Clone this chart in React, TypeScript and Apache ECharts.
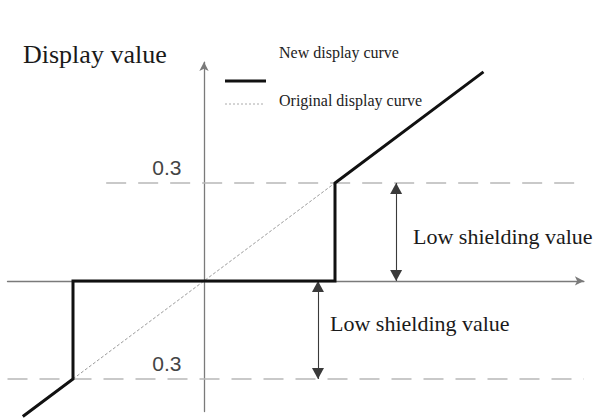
import React, { useEffect, useRef } from 'react';
import * as echarts from 'echarts';

// ---- data ----
const newCurve: [number, number][] = [
  [-0.415, -0.415],
  [-0.3, -0.3],
  [-0.3, 0],
  [0.3, 0],
  [0.3, 0.3],
  [0.64, 0.64],
];
const originalCurve: [number, number][] = [
  [-0.3, -0.3],
  [0.3, 0.3],
];
const thresholdLevels = [0.3, -0.3];
const guideStartX = [-0.224, -0.45];
const guideEndX = 0.87;
const shieldArrowX = [0.44, 0.261];
const shieldArrowSpans: [number, number][] = [
  [0.3, 0],
  [0, -0.3],
];
const levelLabelX = -0.085;
const levelLabelLift = 0.048;
const seriesNames = ['New display curve', 'Original display curve'];
const yTitle = 'Display value';
const annotationText = 'Low shielding value';

const SERIF = "'Liberation Serif', 'Times New Roman', serif";
const SANS = "'Liberation Sans', Arial, sans-serif";

export default function App() {
  const ref = useRef<HTMLDivElement>(null);
  useEffect(() => {
    if (!ref.current) return;
    const chart = echarts.init(ref.current, undefined, { renderer: 'svg' });

    const guideLines = thresholdLevels.map((lv, i) => [
      {
        coord: [guideStartX[i], lv],
        symbol: 'none',
        lineStyle: { color: '#b8b8b8', width: 1.5, type: [20, 12] },
      },
      { coord: [guideEndX, lv], symbol: 'none' },
    ]);
    const arrowEnd = (x: number, y: number) => ({
      coord: [x, y],
      symbol: 'triangle',
      symbolSize: [12, 11],
      symbolOffset: [0, 5.5],
    });
    const arrows = shieldArrowX.map((x, i) => [
      { ...arrowEnd(x, shieldArrowSpans[i][0]), lineStyle: { color: '#3a3a3a', width: 1.1, type: 'solid' } },
      arrowEnd(x, shieldArrowSpans[i][1]),
    ]);

    const axisCommon = {
      type: 'value' as const,
      axisTick: { show: false },
      axisLabel: { show: false },
      splitLine: { show: false },
      axisLine: {
        onZero: true,
        lineStyle: { color: '#7a7a7a', width: 1.3 },
        symbol: ['none', 'arrow'],
        symbolSize: [7, 9],
      },
    };

    chart.setOption({
      animation: false,
      backgroundColor: '#ffffff',
      grid: {
        left: 7.5,
        top: 62.1,
        width: 576.4,
        height: 349.5,
        containLabel: false,
        outerBoundsMode: 'none',
      },
      xAxis: { ...axisCommon, min: -0.45, max: 0.87 },
      yAxis: { ...axisCommon, min: -0.4, max: 0.67 },
      series: [
        {
          name: seriesNames[0],
          type: 'line',
          data: newCurve,
          symbol: 'none',
          clip: false,
          z: 5,
          lineStyle: { color: '#111', width: 3, join: 'miter' },
        },
        {
          name: seriesNames[1],
          type: 'line',
          data: originalCurve,
          symbol: 'none',
          z: 4,
          lineStyle: { color: '#9a9a9a', width: 1, type: [3, 2] },
          markLine: {
            silent: true,
            symbol: ['none', 'none'],
            label: { show: false },
            animation: false,
            z: 3,
            data: [...guideLines, ...arrows],
          },
          markPoint: {
            silent: true,
            symbol: 'circle',
            symbolSize: 1,
            itemStyle: { color: 'rgba(0,0,0,0)' },
            label: {
              show: true,
              position: 'inside',
              formatter: (p: any) => Math.abs(p.value).toFixed(1),
              fontSize: 21,
              fontFamily: SANS,
              color: '#444',
            },
            data: thresholdLevels.map((lv) => ({
              coord: [levelLabelX, lv + levelLabelLift],
              value: lv,
            })),
          },
        },
      ],
      graphic: [
        {
          type: 'text',
          left: 23,
          top: 41,
          style: { text: yTitle, font: `26px ${SERIF}`, fill: '#1a1a1a' },
        },
        {
          type: 'text',
          x: 279,
          y: 52,
          style: { text: seriesNames[0], font: `16px ${SERIF}`, fill: '#222', verticalAlign: 'middle' },
        },
        {
          type: 'line',
          shape: { x1: 225, y1: 81, x2: 266, y2: 81 },
          style: { stroke: '#111', lineWidth: 3 },
        },
        {
          type: 'text',
          x: 279,
          y: 100,
          style: { text: seriesNames[1], font: `16px ${SERIF}`, fill: '#222', verticalAlign: 'middle' },
        },
        {
          type: 'line',
          shape: { x1: 225, y1: 104, x2: 265, y2: 104 },
          style: { stroke: '#aaa', lineWidth: 1, lineDash: [2, 2] },
        },
        {
          type: 'text',
          x: 413,
          y: 236,
          style: { text: annotationText, font: `22px ${SERIF}`, fill: '#1a1a1a', verticalAlign: 'middle' },
        },
        {
          type: 'text',
          x: 330,
          y: 323,
          style: { text: annotationText, font: `22px ${SERIF}`, fill: '#1a1a1a', verticalAlign: 'middle' },
        },
      ],
    });
    return () => chart.dispose();
  }, []);

  return (
    <div
      ref={ref}
      style={{ position: 'fixed', left: 0, top: 0, width: 594, height: 420, background: '#fff' }}
    />
  );
}
